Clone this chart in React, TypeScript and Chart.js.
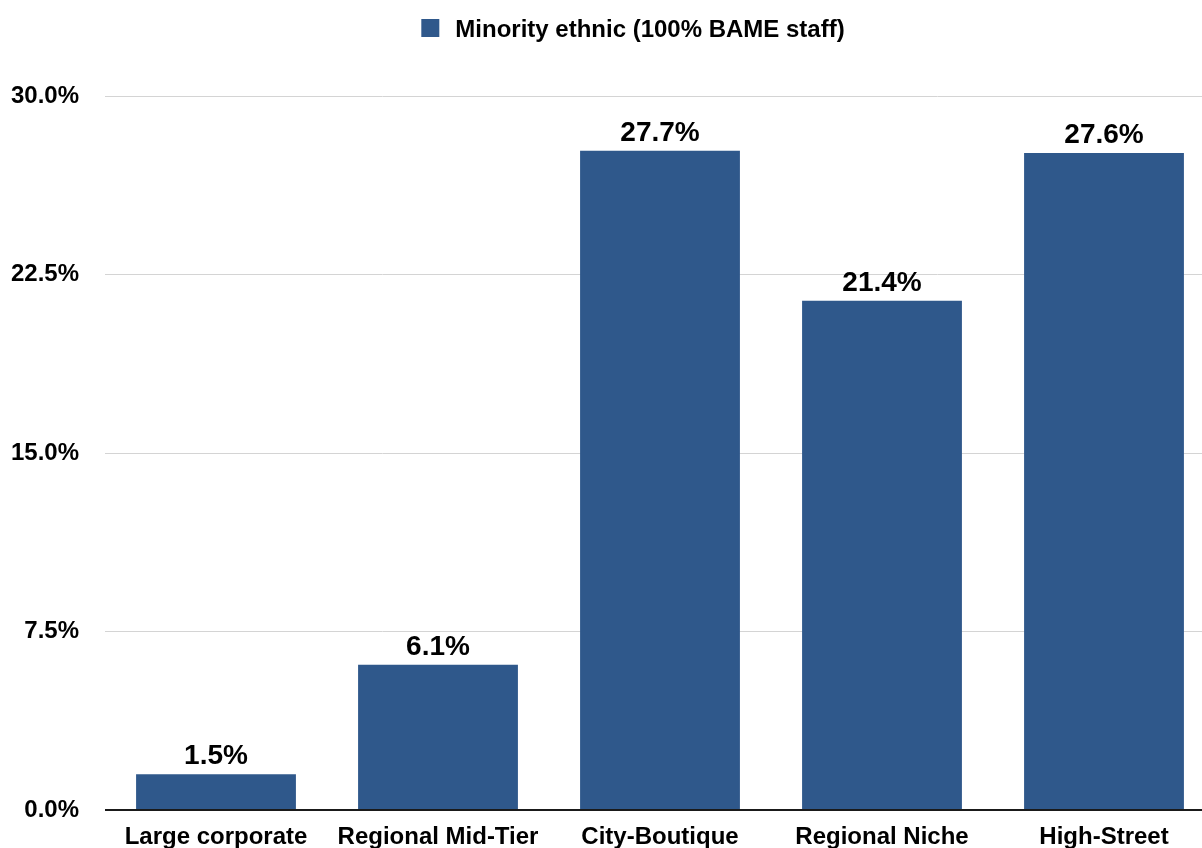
import React, { useEffect, useRef } from "react";
import { Chart, registerables } from "chart.js";

Chart.register(...registerables);

const categories = ["Large corporate", "Regional Mid-Tier", "City-Boutique", "Regional Niche", "High-Street"];
const seriesName = "Minority ethnic (100% BAME staff)";
const values = [1.5, 6.1, 27.7, 21.4, 27.6];
const yTicks = [0, 7.5, 15, 22.5, 30];

const FONT = "'Liberation Sans', Arial, Helvetica, sans-serif";
const BAR_COLOR = "#2f588b";

const valueLabels = {
  id: "valueLabels",
  afterDatasetsDraw(chart: any) {
    const ctx = chart.ctx;
    const meta = chart.getDatasetMeta(0);
    ctx.save();
    ctx.font = `bold 28px ${FONT}`;
    ctx.fillStyle = "#000";
    ctx.textAlign = "center";
    ctx.textBaseline = "alphabetic";
    meta.data.forEach((bar: any, i: number) => {
      ctx.fillText(values[i].toFixed(1) + "%", bar.x, bar.y - 10);
    });
    ctx.restore();
  },
};

const topLegend = {
  id: "topLegend",
  afterDraw(chart: any) {
    const ctx = chart.ctx;
    ctx.save();
    ctx.font = `bold 24px ${FONT}`;
    const tw = ctx.measureText(seriesName).width;
    const box = 18;
    const gap = 16;
    const total = box + gap + tw;
    const cx = 633;
    const x0 = cx - total / 2;
    ctx.fillStyle = BAR_COLOR;
    ctx.fillRect(x0, 19, box, box);
    ctx.fillStyle = "#000";
    ctx.textAlign = "left";
    ctx.textBaseline = "alphabetic";
    ctx.fillText(seriesName, x0 + box + gap, 37);
    ctx.restore();
  },
};

export default function App() {
  const ref = useRef<HTMLCanvasElement>(null);
  useEffect(() => {
    if (!ref.current) return;
    const chart = new Chart(ref.current, {
      type: "bar",
      data: {
        labels: categories,
        datasets: [
          {
            label: seriesName,
            data: values,
            backgroundColor: BAR_COLOR,
            borderWidth: 0,
            categoryPercentage: 1,
            barPercentage: 0.72,
          },
        ],
      },
      options: {
        animation: false,
        responsive: false,
        maintainAspectRatio: false,
        layout: { padding: { top: 96, left: 0, right: 0, bottom: 0 } },
        plugins: {
          legend: { display: false },
          tooltip: { enabled: false },
        },
        scales: {
          x: {
            grid: { display: false, drawTicks: false },
            border: { display: false },
            ticks: {
              color: "#000",
              font: { family: FONT, size: 24, weight: "bold" },
              padding: 13,
              maxRotation: 0,
              autoSkip: false,
            },
            afterFit: (scale: any) => {
              scale.height = 41;
            },
          },
          y: {
            min: 0,
            max: 30,
            afterBuildTicks: (scale: any) => {
              scale.ticks = yTicks.map((v) => ({ value: v }));
            },
            grid: {
              drawTicks: false,
              color: (c: any) => (c.tick && c.tick.value === 0 ? "#1a1a1a" : "#d4d4d4"),
              lineWidth: (c: any) => (c.tick && c.tick.value === 0 ? 2 : 1),
            },
            border: { display: false },
            ticks: {
              color: "#000",
              font: { family: FONT, size: 24, weight: "bold" },
              padding: 26,
              callback: (v: any) => Number(v).toFixed(1) + "%",
            },
            afterFit: (scale: any) => {
              scale.width = 105;
            },
          },
        },
      },
      plugins: [valueLabels, topLegend],
    });
    return () => chart.destroy();
  }, []);
  return (
    <div style={{ position: "fixed", left: 0, top: 0, width: 1202, height: 848, overflow: "hidden", background: "#fff" }}>
      <canvas ref={ref} width={1215} height={851} style={{ width: 1215, height: 851, display: "block" }} />
    </div>
  );
}
